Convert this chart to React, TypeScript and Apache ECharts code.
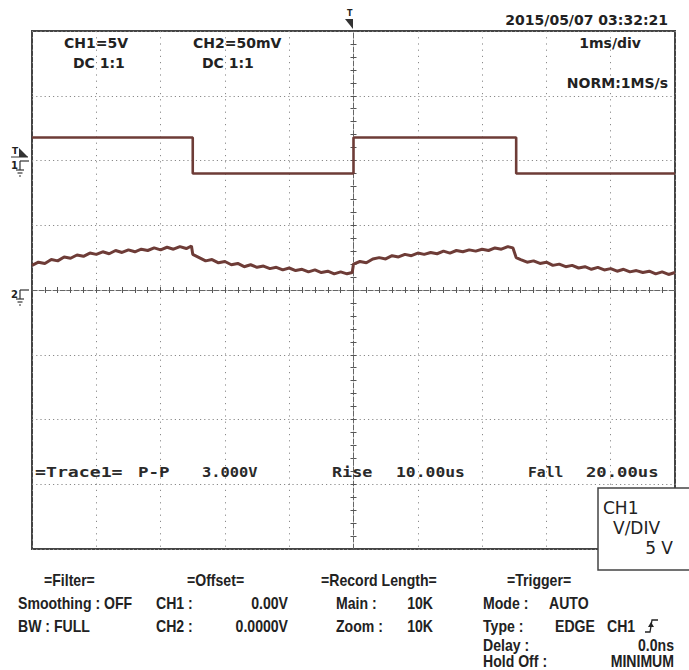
import React, { useEffect, useRef } from 'react';
import * as echarts from 'echarts';

// Time axis in divisions (1 ms/div), centre = trigger point; vertical in divisions.
const ch1Time = [-5, -2.5, -2.5, 0, 0, 2.53, 2.53, 5];
const ch1Level = [2.355, 2.355, 1.8, 1.8, 2.355, 2.355, 1.8, 1.8];

const ch2Time = [
  -5.0, -4.9, -4.8, -4.7, -4.6, -4.5, -4.4, -4.3, -4.2, -4.1, -4.0, -3.9, -3.8, -3.7, -3.6, -3.5,
  -3.4, -3.3, -3.2, -3.1, -3.0, -2.9, -2.8, -2.7, -2.6, -2.52, -2.5,
  -2.4, -2.3, -2.2, -2.1, -2.0, -1.9, -1.8, -1.7, -1.6, -1.5, -1.4, -1.3, -1.2, -1.1, -1.0,
  -0.9, -0.8, -0.7, -0.6, -0.5, -0.4, -0.3, -0.2, -0.1, -0.02, 0.0,
  0.1, 0.2, 0.3, 0.4, 0.5, 0.6, 0.7, 0.8, 0.9, 1.0, 1.1, 1.2, 1.3, 1.4, 1.5, 1.6, 1.7, 1.8,
  1.9, 2.0, 2.1, 2.2, 2.3, 2.4, 2.48, 2.53,
  2.6, 2.7, 2.8, 2.9, 3.0, 3.1, 3.2, 3.3, 3.4, 3.5, 3.6, 3.7, 3.8, 3.9, 4.0, 4.1, 4.2, 4.3,
  4.4, 4.5, 4.6, 4.7, 4.8, 4.9, 5.0,
];
const ch2Level = [
  0.38, 0.43, 0.41, 0.47, 0.45, 0.51, 0.49, 0.54, 0.52, 0.57, 0.55, 0.59, 0.56, 0.61, 0.58, 0.62,
  0.59, 0.63, 0.61, 0.65, 0.62, 0.66, 0.63, 0.67, 0.64, 0.68, 0.55,
  0.5, 0.45, 0.47, 0.42, 0.44, 0.39, 0.41, 0.36, 0.39, 0.35, 0.37, 0.33, 0.35, 0.31, 0.34,
  0.3, 0.32, 0.28, 0.31, 0.27, 0.29, 0.25, 0.28, 0.25, 0.27, 0.4,
  0.44, 0.42, 0.48, 0.5, 0.48, 0.53, 0.51, 0.55, 0.53, 0.57, 0.55, 0.58, 0.56, 0.6, 0.57, 0.61,
  0.59, 0.62, 0.6, 0.63, 0.61, 0.65, 0.63, 0.67, 0.65, 0.5,
  0.47, 0.43, 0.45, 0.41, 0.43, 0.38, 0.4, 0.36, 0.38, 0.34, 0.36, 0.32, 0.35, 0.31, 0.33, 0.29,
  0.32, 0.28, 0.3, 0.27, 0.29, 0.25, 0.28, 0.24, 0.27,
];

const headerTexts = ['CH1=5V', 'DC 1:1', 'CH2=50mV', 'DC 1:1'];
const timeStamp = '2015/05/07 03:32:21';
const timeBase = '1ms/div';
const sampleRate = 'NORM:1MS/s';
const measureTexts = ['=Trace1=', 'P-P', '3.000V', 'Rise', '10.00us', 'Fall', '20.00us'];
const scaleBoxTexts = ['CH1', 'V/DIV', '5 V'];
const filterTexts = ['=Filter=', 'Smoothing : OFF', 'BW : FULL'];
const offsetLabels = ['=Offset=', 'CH1 :', 'CH2 :'];
const offsetValues = ['0.00V', '0.0000V'];
const recordLabels = ['=Record Length=', 'Main :', 'Zoom :'];
const recordValues = ['10K', '10K'];
const triggerLabels = ['=Trigger=', 'Mode :', 'Type :', 'Delay :', 'Hold Off :'];
const triggerSettings = ['AUTO', 'EDGE', 'CH1'];
const triggerValues = ['0.0ns', 'MINIMUM'];

const TRACE = '#6e3c37';
const INK = '#222';
const SANS = '"DejaVu Sans", sans-serif';
const ARIAL = '"Liberation Sans", Arial, sans-serif';
const MONO = '"DejaVu Sans Mono", monospace';

type TO = { size?: number; family?: string; weight?: string; align?: string; sx?: number; fill?: string };
const TO_TABLE: TO = { size: 16, family: ARIAL, weight: 'bold', sx: 0.88, fill: '#222' };

const txt = (text: string, x: number, y: number, o: TO = {}) => ({
  type: 'text',
  x,
  y,
  z: 60,
  scaleX: o.sx ?? 1,
  style: {
    text,
    fontSize: o.size ?? 14,
    fontFamily: o.family ?? SANS,
    fontWeight: o.weight ?? 'normal',
    fill: o.fill ?? INK,
    align: o.align ?? 'left',
    textAlign: o.align ?? 'left',
    verticalAlign: 'middle',
    textVerticalAlign: 'middle',
  },
});
const ln = (x1: number, y1: number, x2: number, y2: number, w = 1.2) => ({
  type: 'line',
  z: 60,
  shape: { x1, y1, x2, y2 },
  style: { stroke: '#333', lineWidth: w },
});
const ground = (label: string, y: number) => [
  txt(label, 11, y + 4, { size: 10, weight: 'bold', family: SANS }),
  ln(20, y, 29, y),
  ln(20, y, 20, y + 9),
  ln(16, y + 9, 24, y + 9),
  ln(17.5, y + 12, 22.5, y + 12),
  ln(19, y + 15, 21, y + 15),
];

export default function App() {
  const ref = useRef<HTMLDivElement>(null);
  useEffect(() => {
    if (!ref.current) return;
    const chart = echarts.init(ref.current, undefined, { renderer: 'svg' });
    const dotV = { color: '#8a8a8a', width: 1, type: [1.2, 5] as number[] };
    const dotH = { color: '#8a8a8a', width: 1, type: [1.2, 3] as number[] };
    const centre = { color: '#666', width: 1, type: [5, 2] as number[] };
    const hiddenLabel = { show: false };
    const tb = TO_TABLE;
    const mono = (sx: number): TO => ({ family: MONO, size: 14, sx, weight: 'bold', fill: '#2a2a2a' });
    const graphic: any[] = [
      // header
      txt(headerTexts[0], 64, 43, { size: 14, weight: 'bold' }),
      txt(headerTexts[1], 73, 63, { size: 14, weight: 'bold' }),
      txt(headerTexts[2], 193, 43, { size: 14, weight: 'bold' }),
      txt(headerTexts[3], 202, 63, { size: 14, weight: 'bold' }),
      txt(timeStamp, 668, 20, { size: 14, weight: 'bold', align: 'right' }),
      txt(timeBase, 641, 43, { size: 14, weight: 'bold', align: 'right' }),
      txt(sampleRate, 668, 83, { size: 14, weight: 'bold', align: 'right' }),
      // trigger marker top
      txt('T', 347, 13, { size: 8, weight: 'bold' }),
      { type: 'polygon', z: 60, shape: { points: [[345, 19], [353, 19], [353, 29]] }, style: { fill: '#333' } },
      // trigger level marker left
      txt('T', 12, 151, { size: 9, weight: 'bold' }),
      { type: 'polygon', z: 60, shape: { points: [[19, 148], [28, 157], [19, 157]] }, style: { fill: '#333' } },
      ln(11, 157, 28, 157, 1),
      ...ground('1', 161),
      ...ground('2', 290),
      // measurement row
      txt(measureTexts[0], 35, 472, mono(1.3)),
      txt(measureTexts[1], 138, 472, mono(1.25)),
      txt(measureTexts[2], 202, 472, mono(1.1)),
      txt(measureTexts[3], 332, 472, mono(1.2)),
      txt(measureTexts[4], 396, 472, mono(1.17)),
      txt(measureTexts[5], 528, 472, mono(1.05)),
      txt(measureTexts[6], 586, 472, mono(1.23)),
      // CH1 scale box
      { type: 'rect', z: 55, shape: { x: 598, y: 488, width: 100, height: 82 }, style: { fill: '#fff', stroke: '#444', lineWidth: 1.5 } },
      txt(scaleBoxTexts[0], 603, 508, { size: 17 }),
      txt(scaleBoxTexts[1], 613, 528, { size: 17 }),
      txt(scaleBoxTexts[2], 673, 548, { size: 17, align: 'right' }),
      // bottom table
      txt(filterTexts[0], 44, 580, tb),
      txt(filterTexts[1], 18, 603, tb),
      txt(filterTexts[2], 18, 626, tb),
      txt(offsetLabels[0], 187, 580, tb),
      txt(offsetLabels[1], 156, 603, tb),
      txt(offsetLabels[2], 156, 626, tb),
      txt(offsetValues[0], 288, 603, { ...tb, align: 'right' }),
      txt(offsetValues[1], 288, 626, { ...tb, align: 'right' }),
      txt(recordLabels[0], 321, 580, tb),
      txt(recordLabels[1], 336, 603, tb),
      txt(recordLabels[2], 336, 626, tb),
      txt(recordValues[0], 433, 603, { ...tb, align: 'right' }),
      txt(recordValues[1], 433, 626, { ...tb, align: 'right' }),
      txt(triggerLabels[0], 507, 580, tb),
      txt(triggerLabels[1], 483, 603, tb),
      txt(triggerSettings[0], 549, 603, tb),
      txt(triggerLabels[2], 483, 626, tb),
      txt(triggerSettings[1], 555, 626, tb),
      txt(triggerSettings[2], 607, 626, tb),
      txt(triggerLabels[3], 483, 645, tb),
      txt(triggerLabels[4], 483, 661, tb),
      txt(triggerValues[0], 674, 645, { ...tb, align: 'right' }),
      txt(triggerValues[1], 674, 661, { ...tb, align: 'right' }),
      // rising edge symbol
      { type: 'polyline', z: 60, shape: { points: [[645, 632], [650, 632], [652, 620], [658, 620]] }, style: { stroke: '#222', lineWidth: 1.3, fill: 'none' } },
      { type: 'polygon', z: 60, shape: { points: [[648, 627], [654, 627], [651, 622]] }, style: { fill: '#222' } },
    ];

    chart.setOption({
      animation: false,
      backgroundColor: '#fff',
      grid: { left: 32, top: 31, width: 643, height: 518, show: true, borderColor: '#444', borderWidth: 2, backgroundColor: 'transparent' },
      xAxis: [
        {
          type: 'value', min: -5, max: 5, interval: 1, position: 'bottom',
          axisLine: { show: true, onZero: true, lineStyle: centre },
          axisTick: { show: true, length: 3, lineStyle: { color: '#555' } },
          minorTick: { show: true, splitNumber: 5, length: 3, lineStyle: { color: '#555' } },
          axisLabel: hiddenLabel,
          splitLine: { show: true, lineStyle: dotV },
        },
        {
          type: 'value', min: -5, max: 5, interval: 1, position: 'top',
          axisLine: { show: false, onZero: true, onZeroAxisIndex: 0 },
          axisTick: { show: true, length: 3, lineStyle: { color: '#555' } },
          minorTick: { show: true, splitNumber: 5, length: 3, lineStyle: { color: '#555' } },
          axisLabel: hiddenLabel,
          splitLine: { show: false },
        },
      ],
      yAxis: [
        {
          type: 'value', min: -4, max: 4, interval: 1, position: 'left',
          axisLine: { show: true, onZero: true, lineStyle: centre },
          axisTick: { show: true, length: 3, lineStyle: { color: '#555' } },
          minorTick: { show: true, splitNumber: 5, length: 3, lineStyle: { color: '#555' } },
          axisLabel: hiddenLabel,
          splitLine: { show: true, lineStyle: dotH },
        },
        {
          type: 'value', min: -4, max: 4, interval: 1, position: 'right',
          axisLine: { show: false, onZero: true, onZeroAxisIndex: 0 },
          axisTick: { show: true, length: 3, lineStyle: { color: '#555' } },
          minorTick: { show: true, splitNumber: 5, length: 3, lineStyle: { color: '#555' } },
          axisLabel: hiddenLabel,
          splitLine: { show: false },
        },
      ],
      series: [
        {
          type: 'line', name: 'CH1', xAxisIndex: 0, yAxisIndex: 0, showSymbol: false, silent: true,
          data: ch1Time.map((t, i) => [t, ch1Level[i]]),
          lineStyle: { color: TRACE, width: 2.6 },
        },
        {
          type: 'line', name: 'CH2', xAxisIndex: 0, yAxisIndex: 0, showSymbol: false, silent: true,
          data: ch2Time.map((t, i) => [t, ch2Level[i]]),
          lineStyle: { color: TRACE, width: 3 },
        },
      ],
      graphic,
    });
    return () => chart.dispose();
  }, []);
  return <div ref={ref} style={{ position: 'fixed', left: 0, top: 0, width: 689, height: 670, background: '#fff' }} />;
}
